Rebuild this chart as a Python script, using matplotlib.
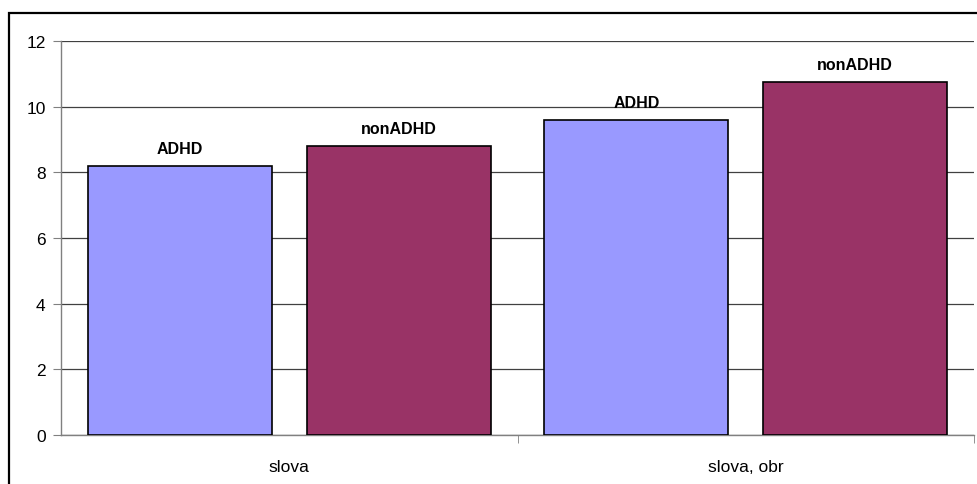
import matplotlib.pyplot as plt
from matplotlib.patches import Rectangle

plt.rcParams['font.family'] = ['Liberation Sans', 'DejaVu Sans']

groups = ['slova', 'slova, obr']
series = ['ADHD', 'nonADHD']
adhd = [8.2, 9.6]
nonadhd = [8.8, 10.75]
colors = ['#9999FF', '#993366']

fig = plt.figure(figsize=(9.77, 4.85), dpi=100)
ax = fig.add_axes([61 / 977, 49 / 485, 913 / 977, 394 / 485])

# outer chart border (runs off the right and bottom edges)
fig.patches.append(Rectangle((9 / 977, -0.2), 1.2, (485 - 14) / 485 + 0.2,
                             transform=fig.transFigure, fill=False,
                             edgecolor='black', linewidth=1.6))

centers = [0.5, 1.5]
width = 0.403
for vals, name, col, off in [(adhd, series[0], colors[0], -0.2395),
                             (nonadhd, series[1], colors[1], 0.2395)]:
    xs = [c + off for c in centers]
    ax.bar(xs, vals, width=width, color=col, edgecolor='black',
           linewidth=1.2, zorder=3)
    for x, v in zip(xs, vals):
        ax.annotate(name, (x, v), xytext=(0, 7), textcoords='offset points',
                    ha='center', va='bottom', fontsize=11.5, fontweight='bold')

ax.set_xlim(0, 2)
ax.set_ylim(0, 12)
ax.set_yticks(range(0, 13, 2))
ax.yaxis.grid(True, color='#404040', linewidth=0.9, zorder=0)
ax.set_axisbelow(True)

ax.set_xticks(centers)
ax.set_xticklabels(groups)
ax.set_xticks([1, 2], minor=True)
ax.tick_params(axis='x', which='major', length=0, pad=17, labelsize=12.5)
ax.tick_params(axis='x', which='minor', length=6, direction='out',
               color='#808080')
ax.tick_params(axis='y', length=6, direction='out', color='#808080',
               pad=5, labelsize=12.5)

for s in ['top', 'right']:
    ax.spines[s].set_visible(False)
for s in ['left', 'bottom']:
    ax.spines[s].set_color('#808080')
    ax.spines[s].set_linewidth(1.0)

fig.savefig('out.png', dpi=100)
